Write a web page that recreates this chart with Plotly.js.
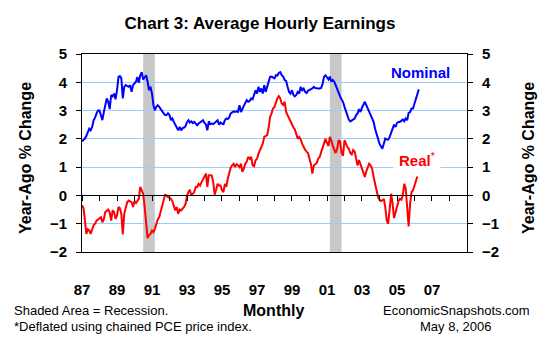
<!DOCTYPE html>
<html>
<head>
<meta charset="utf-8">
<script src="https://cdn.plot.ly/plotly-3.0.1.min.js"></script>
<style>
  html, body { margin: 0; padding: 0; background: #ffffff; }
  #chart { width: 550px; height: 345px; }
</style>
</head>
<body>
<div id="chart"></div>
<script>
// ---- Data (year-ago % change, monthly from Jan 1987) ----
const startYear = 1987;

// Nominal average hourly earnings, Jan 1987 - Apr 2006
const nominalValues = [
  1.91,1.95,2.01,2.10,2.25,2.36,2.30,2.42,2.66,2.75,2.90,3.00, // 1987
  3.00,2.85,2.66,2.95,3.25,3.43,3.31,3.05,3.55,3.50,3.60,3.40, // 1988
  3.72,4.19,4.22,4.15,3.43,3.84,3.90,3.86,3.84,3.90,3.66,3.90, // 1989
  3.96,4.02,4.19,3.98,4.25,4.36,4.10,4.20,4.25,4.02,3.72,3.84, // 1990
  3.60,3.19,3.01,3.13,3.19,3.13,3.05,2.95,2.90,2.84,2.84,2.90, // 1991
  2.84,2.66,2.72,2.60,2.48,2.36,2.30,2.42,2.30,2.38,2.40,2.45, // 1992
  2.60,2.66,2.58,2.62,2.56,2.60,2.54,2.48,2.54,2.58,2.60,2.66, // 1993
  2.56,2.50,2.30,2.62,2.52,2.54,2.52,2.56,2.60,2.66,2.50,2.58, // 1994
  2.54,2.52,2.66,2.72,2.70,2.76,2.90,2.95,2.97,2.95,2.97,2.95, // 1995
  3.19,2.95,3.07,3.13,3.27,3.37,3.31,3.34,3.43,3.40,3.55,3.72, // 1996
  3.60,3.84,3.66,3.78,3.60,3.90,3.66,3.84,3.96,4.19,4.20,4.18, // 1997
  4.14,4.25,4.24,4.33,4.36,4.25,4.20,4.08,4.05,3.84,3.66,3.60, // 1998
  3.72,3.55,3.50,3.55,3.66,3.60,3.84,3.72,3.78,3.66,3.62,3.70, // 1999
  3.74,3.76,3.78,3.84,3.80,3.78,3.78,3.78,3.80,3.95,4.20,4.25, // 2000
  4.18,4.10,4.20,4.02,4.08,4.02,3.90,3.74,3.66,3.50,3.39,3.31, // 2001
  3.13,2.95,2.78,2.68,2.62,2.66,2.70,2.72,2.84,2.90,3.05,2.95, // 2002
  3.10,3.20,3.31,3.19,3.07,2.95,2.84,2.75,2.60,2.36,2.13,2.01, // 2003
  1.83,1.71,1.65,1.83,2.01,1.98,1.97,2.07,2.25,2.36,2.50,2.42, // 2004
  2.56,2.60,2.60,2.66,2.68,2.62,2.72,2.66,2.92,2.95,3.07,3.07, // 2005
  3.25,3.43,3.60,3.75                                          // 2006
];

// Real (PCE-deflated) average hourly earnings, Jan 1987 - Mar 2006
const realValues = [
  -0.35,-0.45,-0.85,-1.36,-1.20,-1.24,-1.36,-1.15,-1.05,-1.00,-0.89,-0.85, // 1987
  -0.80,-0.77,-0.95,-0.83,-0.59,-0.55,-0.50,-0.60,-0.89,-0.53,-0.59,-0.83, // 1988
  -0.71,-0.41,-0.45,-0.65,-1.38,-0.65,-0.41,-0.24,-0.18,-0.20,-0.24,-0.41, // 1989
  -0.20,-0.27,-0.20,-0.12, 0.30, 0.18, 0.06,-0.41,-0.90,-1.51,-1.40,-1.36, // 1990
  -1.24,-1.30,-1.18,-1.00,-0.85,-0.77,-0.59,-0.41,-0.24, 0.02, 0.00,-0.06, // 1991
  -0.08,-0.12,-0.20,-0.41,-0.53,-0.41,-0.65,-0.50,-0.53,-0.47,-0.41,-0.30, // 1992
   0.00, 0.12, 0.20, 0.00, 0.06, 0.12, 0.30, 0.30, 0.41, 0.35, 0.47, 0.59, // 1993
   0.65, 0.77, 0.30, 0.71, 0.71, 0.70, 0.47, 0.03, 0.20, 0.41, 0.35, 0.35, // 1994
   0.18, 0.12, 0.41, 0.30, 0.59, 0.77, 0.98, 1.06, 1.12, 1.00, 1.10, 1.06, // 1995
   1.00, 1.12, 0.83, 0.95, 1.12, 1.20, 1.36, 1.30, 1.36, 1.06, 1.03, 1.24, // 1996
   1.30, 1.48, 1.60, 1.75, 1.83, 2.07, 2.10, 2.13, 2.40, 2.78, 2.90, 3.07, // 1997
   3.13, 3.31, 3.43, 3.51, 3.43, 3.25, 3.20, 3.31, 2.95, 2.84, 2.72, 2.60, // 1998
   2.54, 2.40, 2.33, 2.15, 2.01, 2.07, 1.98, 1.83, 1.71, 1.62, 1.55, 1.50, // 1999
   1.30, 1.10, 0.77, 1.06, 1.10, 1.15, 1.30, 1.36, 1.53, 1.71, 1.83, 2.00, // 2000
   1.85, 1.75, 2.07, 1.95, 1.75, 1.60, 1.50, 1.65, 1.95, 1.90, 1.50, 1.40, // 2001
   1.95, 1.83, 1.71, 1.65, 1.50, 1.45, 1.60, 1.55, 1.35, 1.06, 1.25, 1.06, // 2002
   0.95, 0.80, 0.65, 0.85, 1.00, 1.12, 1.06, 0.95, 0.65, 0.41, 0.18,-0.05, // 2003
  -0.15,-0.20,-0.18,-0.12,-0.41,-0.89,-1.00,-0.55, 0.06,-0.30,-0.80,-0.60, // 2004
  -0.35,-0.20,-0.12,-0.15, 0.00, 0.41, 0.25,-0.41,-1.10,-0.30, 0.12, 0.18, // 2005
   0.35, 0.50, 0.67                                                         // 2006
];

// Recessions (shaded)
const recessionStart = ['1990-07-01', '2001-03-01'];
const recessionEnd   = ['1991-03-01', '2001-11-01'];

// X tick labels
const xTickYears  = [1987,1989,1991,1993,1995,1997,1999,2001,2003,2005,2007];
const xTickLabels = ['87','89','91','93','95','97','99','01','03','05','07'];
const yTickValues = [-2,-1,0,1,2,3,4,5];

// ---- Build ----
function monthDates(n) {
  const out = [];
  for (let i = 0; i < n; i++) {
    const y = startYear + Math.floor(i / 12);
    const m = (i % 12) + 1;
    out.push(y + '-' + (m < 10 ? '0' + m : m) + '-01');
  }
  return out;
}

const FONT = 'Arial, "Liberation Sans", Helvetica, sans-serif';
const W = 550, H = 345;
const M = { l: 82, r: 83, t: 54, b: 93 };
const PW = W - M.l - M.r, PH = H - M.t - M.b;
const px = x => (x - M.l) / PW;
const py = y => (H - M.b - y) / PH;

const traces = [
  {
    x: monthDates(nominalValues.length), y: nominalValues,
    type: 'scatter', mode: 'lines', name: 'Nominal',
    line: { color: '#0000FF', width: 2 }, xaxis: 'x', yaxis: 'y',
    hoverinfo: 'skip'
  },
  {
    x: monthDates(realValues.length), y: realValues,
    type: 'scatter', mode: 'lines', name: 'Real*',
    line: { color: '#FF0000', width: 2 }, xaxis: 'x', yaxis: 'y',
    hoverinfo: 'skip'
  }
];

const shapes = recessionStart.map((s, i) => ({
  type: 'rect', xref: 'x', yref: 'paper',
  x0: s, x1: recessionEnd[i], y0: 0, y1: 1,
  fillcolor: '#C8C8C8', line: { width: 0 }, layer: 'between'
}));

const ann = (text, x, y, opts) => Object.assign({
  text: text, xref: 'paper', yref: 'paper', x: px(x), y: py(y),
  xanchor: 'center', yanchor: 'middle', showarrow: false,
  font: { family: FONT, size: 13, color: '#000000' }
}, opts || {});

const annotations = [
  ann('<b>Nominal</b>', 420, 72.5, { font: { family: FONT, size: 15, color: '#0000FF' } }),
  ann('<b>Real</b><sup>*</sup>', 417, 159, {
    font: { family: FONT, size: 15, color: '#FF0000' },
    bgcolor: '#FFFFFF', borderpad: 5
  }),
  ann('<b>Year-Ago % Change</b>', 25, 158, { textangle: -90, font: { family: FONT, size: 16, color: '#000000' } }),
  ann('<b>Year-Ago % Change</b>', 528, 158, { textangle: -90, font: { family: FONT, size: 16, color: '#000000' } }),
  ann('<b>Monthly</b>', 273, 310, { font: { family: FONT, size: 16, color: '#000000' } }),
  ann('Shaded Area = Recession.', 12, 310.5, { xanchor: 'left' }),
  ann('*Deflated using chained PCE price index.', 12, 326.5, { xanchor: 'left' }),
  ann('EconomicSnapshots.com', 456, 310.5),
  ann('May 8, 2006', 456, 326.5)
];

const yRange = [-2, 5];
const zeroPos = (0 - yRange[0]) / (yRange[1] - yRange[0]);

const layout = {
  width: W, height: H,
  margin: M,
  paper_bgcolor: '#FFFFFF', plot_bgcolor: '#FFFFFF',
  showlegend: false,
  title: {
    text: '<b>Chart 3: Average Hourly Earnings</b>',
    x: 260 / W, xanchor: 'center', xref: 'container',
    y: 1 - 23 / H, yanchor: 'middle', yref: 'container',
    font: { family: FONT, size: 17, color: '#000000' }
  },
  xaxis: {
    type: 'date', range: ['1987-01-01', '2009-01-01'],
    showline: true, linecolor: '#000000', linewidth: 1, mirror: true,
    showgrid: false, zeroline: false,
    tickmode: 'array',
    tickvals: xTickYears.map(y => y + '-01-01'),
    ticktext: xTickLabels,
    ticks: '', ticklabelstandoff: 24,
    tickfont: { family: FONT, size: 15, color: '#000000', weight: 'bold' },
    fixedrange: true
  },
  xaxis2: {
    type: 'date', range: ['1987-01-01', '2009-01-01'],
    overlaying: 'x', anchor: 'free', position: zeroPos, side: 'bottom',
    showline: true, linecolor: '#000000', linewidth: 1,
    showgrid: false, zeroline: false,
    ticks: 'outside', ticklen: 5, tickwidth: 1, tickcolor: '#000000',
    dtick: 'M12', tick0: '1987-01-01',
    showticklabels: false, fixedrange: true
  },
  yaxis: {
    range: yRange, tickmode: 'array', tickvals: yTickValues,
    showline: true, linecolor: '#000000', linewidth: 1,
    ticks: 'outside', ticklen: 5, tickwidth: 1, tickcolor: '#000000',
    showgrid: true, gridcolor: '#99CCFF', gridwidth: 1,
    zeroline: false, ticklabelstandoff: 6,
    tickfont: { family: FONT, size: 15, color: '#000000', weight: 'bold' },
    fixedrange: true
  },
  yaxis2: {
    range: yRange, tickmode: 'array', tickvals: yTickValues,
    overlaying: 'y', side: 'right', anchor: 'x',
    showline: true, linecolor: '#000000', linewidth: 1,
    ticks: 'outside', ticklen: 5, tickwidth: 1, tickcolor: '#000000',
    showgrid: false, zeroline: false, ticklabelstandoff: 6,
    tickfont: { family: FONT, size: 15, color: '#000000', weight: 'bold' },
    fixedrange: true
  },
  shapes: shapes,
  annotations: annotations
};

// invisible trace to activate xaxis2 / yaxis2
traces.push({
  x: ['1987-01-01'], y: [0], xaxis: 'x2', yaxis: 'y2',
  type: 'scatter', mode: 'markers', marker: { opacity: 0 },
  hoverinfo: 'skip', showlegend: false
});

Plotly.newPlot('chart', traces, layout, { staticPlot: true, displayModeBar: false });
</script>
</body>
</html>
